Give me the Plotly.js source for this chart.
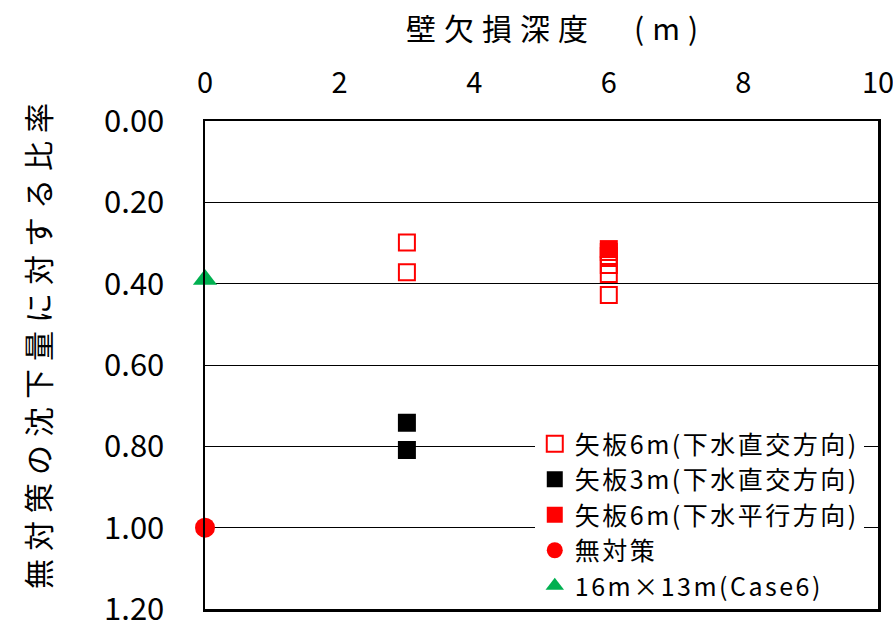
<!DOCTYPE html>
<html>
<head>
<meta charset="utf-8">
<script src="https://cdn.plot.ly/plotly-3.0.1.min.js"></script>
<style>
html, body { margin: 0; padding: 0; background: #fff; }
#chart { width: 893px; height: 622px; }
.annotation-text { letter-spacing: 8px; }
.legendtext { letter-spacing: 2.5px; }
</style>
</head>
<body>
<div id="chart"></div>
<script>
// Data
const seriesNames = [
  '矢板6m(下水直交方向)',
  '矢板3m(下水直交方向)',
  '矢板6m(下水平行方向)',
  '無対策',
  '16m×13m(Case6)'
];
const pile6CrossX = [3, 3, 6, 6, 6, 6, 6];
const pile6CrossY = [0.299, 0.372, 0.322, 0.332, 0.354, 0.376, 0.428];
const pile3CrossX = [3, 3];
const pile3CrossY = [0.742, 0.809];
const pile6ParX = [6];
const pile6ParY = [0.315];
const noMeasureX = [0];
const noMeasureY = [1.0];
const case6X = [0];
const case6Y = [0.39];
const xTickVals = [0, 2, 4, 6, 8, 10];
const xTickText = ['0', '2', '4', '6', '8', '10'];
const yTickVals = [0, 0.2, 0.4, 0.6, 0.8, 1.0, 1.2];
const xTitle = '壁欠損深度　(m)';
const yTitle = '無対策の沈下量に対する比率';

const FONT = '"Noto Sans CJK JP", "Noto Sans", sans-serif';

const traces = [
  { x: pile6CrossX, y: pile6CrossY, name: seriesNames[0], type: 'scatter', mode: 'markers', cliponaxis: false,
    marker: { symbol: 'square-open', size: 16, color: '#FF0000', line: { width: 2, color: '#FF0000' } } },
  { x: pile3CrossX, y: pile3CrossY, name: seriesNames[1], type: 'scatter', mode: 'markers', cliponaxis: false,
    marker: { symbol: 'square', size: 18, color: '#000000' } },
  { x: pile6ParX, y: pile6ParY, name: seriesNames[2], type: 'scatter', mode: 'markers', cliponaxis: false,
    marker: { symbol: 'square', size: 18, color: '#FF0000' } },
  { x: noMeasureX, y: noMeasureY, name: seriesNames[3], type: 'scatter', mode: 'markers', cliponaxis: false,
    marker: { symbol: 'circle', size: 20, color: '#FF0000' } },
  { x: case6X, y: case6Y, name: seriesNames[4], type: 'scatter', mode: 'markers', cliponaxis: false,
    marker: { symbol: 'triangle-up', size: 21, color: '#00B050' } }
];

const layout = {
  width: 893, height: 622,
  margin: { l: 205, r: 15, t: 121, b: 13, autoexpand: false },
  paper_bgcolor: '#ffffff', plot_bgcolor: '#ffffff',
  font: { family: FONT, color: '#000000', size: 28 },
  showlegend: true,
  legend: {
    x: 0.49, xanchor: 'left', y: 0.0, yanchor: 'bottom',
    bgcolor: '#ffffff', borderwidth: 0,
    font: { family: FONT, size: 25, color: '#000000' },
    itemsizing: 'trace', tracegroupgap: 0
  },
  xaxis: {
    side: 'top', range: [0, 10], tickvals: xTickVals, ticktext: xTickText,
    showgrid: false, zeroline: false, ticks: '', ticklabelstandoff: 14, ticklabeloverflow: 'allow',
    showline: true, mirror: true, linecolor: '#000000', linewidth: 2.5,
    tickfont: { family: FONT, size: 29 },
    automargin: false
  },
  yaxis: {
    range: [1.2, 0], tickvals: yTickVals, tickformat: '.2f',
    showgrid: true, gridcolor: '#000000', gridwidth: 1, zeroline: false, ticks: '', ticklabelstandoff: 32, ticklabeloverflow: 'allow',
    showline: true, mirror: true, linecolor: '#000000', linewidth: 2.5,
    tickfont: { family: FONT, size: 31 },
    automargin: false
  },
  annotations: [
    { text: xTitle, xref: 'paper', yref: 'paper', x: (556 - 205) / 673, y: (609 - 27) / 488,
      xanchor: 'center', yanchor: 'middle', showarrow: false, font: { family: FONT, size: 30 } },
    { text: yTitle, xref: 'paper', yref: 'paper', x: (37 - 205) / 673, y: (609 - 342) / 488,
      xanchor: 'center', yanchor: 'middle', textangle: -90, showarrow: false, font: { family: FONT, size: 30 } }
  ]
};

Plotly.newPlot('chart', traces, layout, { staticPlot: true, displayModeBar: false });
</script>
</body>
</html>
